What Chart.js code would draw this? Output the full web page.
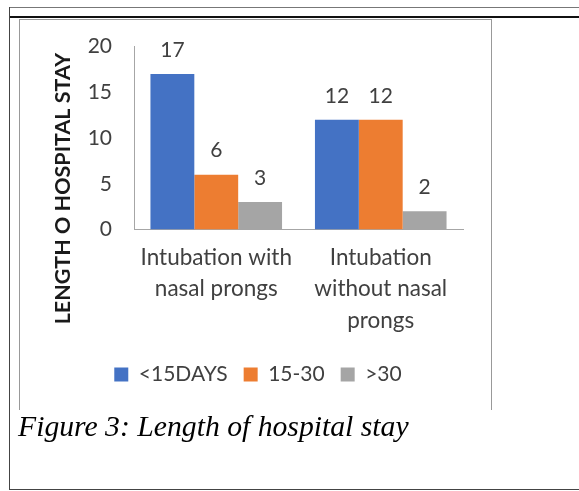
<!DOCTYPE html>
<html lang="en">
<head>
  <meta charset="UTF-8">
  <title>Length of hospital stay</title>
  <script src="https://cdn.jsdelivr.net/npm/chart.js"></script>
  <style>
    body { margin: 0; background: #fff; }
    #page { position: relative; width: 579px; height: 491px; overflow: hidden; }
    .line { position: absolute; }
    #chartBox { position: absolute; left: 20px; top: 12px; width: 470px; height: 398px; }
    #caption {
      position: absolute; left: 18px; top: 410px;
      font: italic 29.7px "Liberation Serif", "Times New Roman", serif;
      color: #000; white-space: nowrap;
    }
  </style>
</head>
<body>
  <div id="page">
    <div id="chartBox"><canvas id="stayChart"></canvas></div>

    <!-- frame lines -->
    <div class="line" style="left:9px;top:7px;width:570px;height:1px;background:#777"></div>
    <div class="line" style="left:9px;top:16px;width:570px;height:2px;background:#111"></div>
    <div class="line" style="left:9px;top:7px;width:1px;height:483px;background:#444"></div>
    <div class="line" style="left:9px;top:489px;width:570px;height:1px;background:#444"></div>
    <div class="line" style="left:19px;top:19px;width:472px;height:1px;background:#999"></div>
    <div class="line" style="left:19px;top:19px;width:1px;height:391px;background:#999"></div>
    <div class="line" style="left:491px;top:19px;width:1px;height:391px;background:#999"></div>

    <div id="caption">Figure 3: Length of hospital stay</div>
  </div>

  <script>
    // chart data
    const categories = [['Intubation with', 'nasal prongs'], ['Intubation', 'without nasal', 'prongs']];
    const seriesNames = ['<15DAYS', '15-30', '>30'];
    const under15 = [17, 12];
    const between15and30 = [6, 12];
    const over30 = [3, 2];
    const yTicks = [0, 5, 10, 15, 20];
    const yTitle = 'LENGTH O HOSPITAL STAY';

    const colors = ['#4472C4', '#ED7D31', '#A5A5A5'];
    const textColor = '#404040';
    const fontFamily = 'Lato, "Open Sans", sans-serif';

    // value labels above bars + rotated y title
    const extras = {
      id: 'extras',
      afterDatasetsDraw(chart) {
        const ctx = chart.ctx;
        ctx.save();
        ctx.font = '21px ' + fontFamily;
        ctx.fillStyle = textColor;
        ctx.textAlign = 'center';
        ctx.textBaseline = 'middle';
        chart.data.datasets.forEach((ds, i) => {
          chart.getDatasetMeta(i).data.forEach((bar, j) => {
            ctx.fillText(ds.data[j], bar.x, bar.y - 24);
          });
        });
        const area = chart.chartArea;
        ctx.translate(area.left - 71, area.top + 142);
        ctx.rotate(-Math.PI / 2);
        ctx.font = 'bold 21.5px ' + fontFamily;
        ctx.fillStyle = '#1a1a1a';
        ctx.fillText(yTitle, 0, 0);
        ctx.restore();
      }
    };

    const ctx = document.getElementById('stayChart').getContext('2d');
    new Chart(ctx, {
      type: 'bar',
      data: {
        labels: categories,
        datasets: [
          { label: seriesNames[0], data: under15, backgroundColor: colors[0] },
          { label: seriesNames[1], data: between15and30, backgroundColor: colors[1] },
          { label: seriesNames[2], data: over30, backgroundColor: colors[2] }
        ]
      },
      options: {
        responsive: true,
        maintainAspectRatio: false,
        animation: false,
        layout: { padding: { top: 9, right: 27, left: 33, bottom: 15 } },
        datasets: { bar: { categoryPercentage: 0.8, barPercentage: 1.0 } },
        scales: {
          x: {
            grid: { display: false, drawTicks: false },
            border: { display: true, color: '#a6a6a6' },
            ticks: {
              color: textColor,
              font: { family: fontFamily, size: 22.5, lineHeight: 1.4 },
              padding: 12,
              maxRotation: 0
            }
          },
          y: {
            min: 0,
            max: 20,
            afterBuildTicks(scale) { scale.ticks = yTicks.map(v => ({ value: v })); },
            afterFit(scale) { scale.width = 81; },
            grid: { display: false, drawTicks: false },
            border: { display: true, color: '#a6a6a6' },
            ticks: {
              color: textColor,
              font: { family: fontFamily, size: 21 },
              padding: 22
            }
          }
        },
        plugins: {
          legend: {
            position: 'bottom',
            labels: {
              color: textColor,
              font: { family: fontFamily, size: 21 },
              boxWidth: 14,
              boxHeight: 14,
              padding: 16
            }
          },
          tooltip: { enabled: false }
        }
      },
      plugins: [extras]
    });
  </script>
</body>
</html>
